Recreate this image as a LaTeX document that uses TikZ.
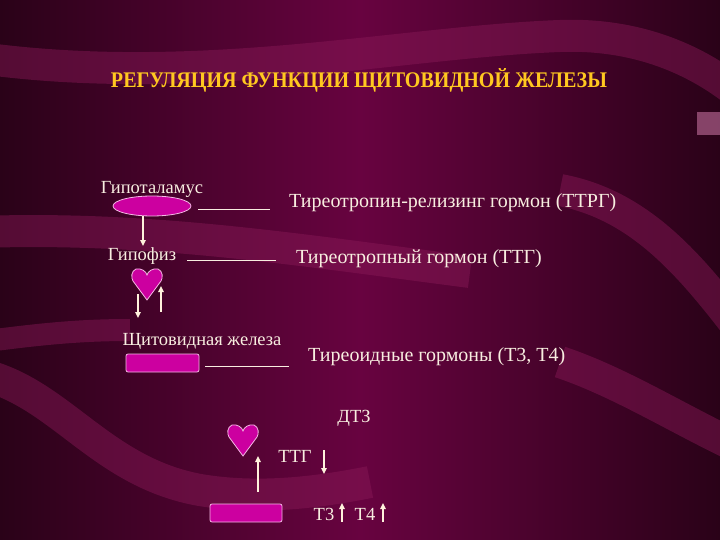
\documentclass[tikz,border=0pt]{standalone}
\usepackage{fontspec}
\setmainfont{Liberation Serif}
\usetikzlibrary{shapes.geometric,arrows.meta}
\definecolor{bgdark}{HTML}{2A0218}
\definecolor{bgmid}{HTML}{680340}
\definecolor{band}{HTML}{8A1A58}
\definecolor{ttl}{HTML}{FFC820}
\definecolor{txt}{HTML}{F8EEE0}
\definecolor{mag}{HTML}{CC00A0}
\definecolor{magedge}{HTML}{F4B8E4}
\definecolor{arrc}{HTML}{FFF2DC}
\tikzset{
  lbl/.style={text=txt, font=\fontsize{18.5}{18.5}\selectfont, inner sep=0pt},
  hor/.style={text=txt, font=\fontsize{20}{20}\selectfont, inner sep=0pt, anchor=west},
  arr/.style={draw=arrc, line width=1.6pt, -{Triangle[length=6pt,width=5.5pt]}},
  dashline/.style={draw=txt, line width=1pt},
  shape1/.style={fill=mag, draw=magedge, line width=0.8pt},
  bandline/.style={draw=band, line width=32pt, opacity=0.45},
  heart/.pic={\path[shape1] (0,15) -- (-14,-4) .. controls (-16,-7) and (-16,-14) .. (-11,-16) .. controls (-6,-17) and (-1,-14) .. (0,-10) .. controls (1,-14) and (6,-17) .. (11,-16) .. controls (16,-14) and (16,-7) .. (14,-4) -- cycle;}
}
\begin{document}
\begin{tikzpicture}[x=1pt,y=-1pt]
\useasboundingbox (0,0) rectangle (720,540);
% background
\shade[left color=bgdark, right color=bgdark, middle color=bgmid] (0,0) rectangle (720,540);
\path[bandline] (-20,58) .. controls (200,88) and (400,42) .. (560,36) .. controls (640,33) and (700,62) .. (740,95);
\path[bandline] (-20,232) .. controls (150,226) and (300,250) .. (470,272);
\path[bandline] (560,190) .. controls (640,205) and (690,265) .. (740,330);
\path[bandline, line width=22pt] (-20,342) .. controls (40,334) and (80,330) .. (130,330);
\path[bandline] (-20,374) .. controls (60,392) and (100,472) .. (200,490) .. controls (260,500) and (320,492) .. (370,482);
\path[bandline] (560,362) .. controls (620,382) and (680,420) .. (740,448);
\fill[band!70!white, opacity=0.7] (697,112) rectangle (720,135);

% title
\node[text=ttl, font=\bfseries\fontsize{22.3}{22.3}\selectfont, inner sep=0pt, xscale=0.9] (title) at (359,80) {РЕГУЛЯЦИЯ ФУНКЦИИ ЩИТОВИДНОЙ ЖЕЛЕЗЫ};

% hypothalamus
\node[lbl] (hyplab) at (152,189) {Гипоталамус};
\node[shape1, ellipse, minimum width=78pt, minimum height=20pt, inner sep=0pt] (hyp) at (152,206) {};
\coordinate (l1a) at (198,210); \coordinate (l1b) at (270,210);
\draw[dashline] (l1a) -- (l1b);
\node[hor] (ttrg) at (289,203) {Тиреотропин-релизинг гормон (ТТРГ)};

% pituitary
\node[lbl] (pitlab) at (142,256) {Гипофиз};
\coordinate (a1e) at (143,246);
\draw[arr] (hyp.south -| a1e) -- (a1e);
\coordinate (l2a) at (187,260); \coordinate (l2b) at (276,260);
\draw[dashline] (l2a) -- (l2b);
\node[hor] (ttg1) at (296,259) {Тиреотропный гормон (ТТГ)};
\pic at (147,285) {heart};
\coordinate (d1s) at (138,294); \coordinate (d1e) at (138,318);
\draw[arr] (d1s) -- (d1e);
\coordinate (u1s) at (161,312); \coordinate (u1e) at (161,286);
\draw[arr] (u1s) -- (u1e);

% thyroid
\node[lbl] (thylab) at (202,341) {Щитовидная железа};
\node[shape1, rectangle, rounded corners=2pt, minimum width=73pt, minimum height=18pt, inner sep=0pt] (thy) at (162.5,363) {};
\coordinate (l3a) at (205,366); \coordinate (l3b) at (289,366);
\draw[dashline] (l3a) -- (l3b);
\node[hor] (th) at (308,357) {Тиреоидные гормоны (Т3, Т4)};

% DTZ
\node[lbl] (dtz) at (354,418) {ДТЗ};
\pic at (243,441) {heart};
\node[lbl] (ttg2) at (295,456) {ТТГ};
\coordinate (d2s) at (324,450); \coordinate (d2e) at (324,474);
\draw[arr] (d2s) -- (d2e);
\node[shape1, rectangle, rounded corners=2pt, minimum width=72pt, minimum height=18pt, inner sep=0pt] (thy2) at (246,513) {};
\coordinate (u2s) at (258,492); \coordinate (u2e) at (258,456);
\draw[arr] (u2s) -- (u2e);
\node[lbl] (t3) at (324,514) {Т3};
\coordinate (u3s) at (342,522); \coordinate (u3e) at (342,503);
\draw[arr] (u3s) -- (u3e);
\node[lbl] (t4) at (365,514) {Т4};
\coordinate (u4s) at (383,522); \coordinate (u4e) at (383,503);
\draw[arr] (u4s) -- (u4e);
\end{tikzpicture}
\end{document}
